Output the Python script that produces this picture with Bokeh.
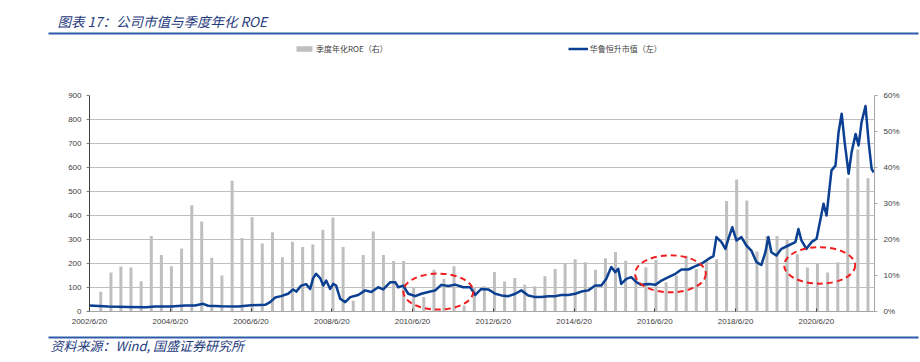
import pandas as pd
from bokeh.plotting import figure
from bokeh.models import (Range1d, LinearAxis, FixedTicker, DatetimeTickFormatter,
                          PrintfTickFormatter, Legend, LegendItem, Label, BoxAnnotation,
                          ColumnDataSource)
from bokeh.embed import file_html
from bokeh.resources import INLINE

# ---------------- data ----------------
quarter_ends = [pd.Timestamp(y, m, 1) + pd.offsets.MonthEnd(0)
                for y in range(2002, 2022) for m in (3, 6, 9, 12)]
quarter_ends = [d for d in quarter_ends
                if pd.Timestamp("2002-09-01") <= d <= pd.Timestamp("2021-09-30")]

roe_pct = [5.5, 10.8, 12.5, 12.2, 8.4, 21.0, 15.7, 12.6, 17.5, 29.5,
           25.0, 14.9, 10.0, 36.3, 20.4, 26.2, 18.9, 22.0, 15.1, 19.4,
           17.9, 18.6, 22.7, 26.1, 17.9, 3.0, 15.7, 22.2, 15.7, 14.0,
           14.0, 6.7, 4.0, 11.6, 9.1, 12.6, 1.7, 6.5, 7.0, 11.0,
           8.3, 9.3, 7.4, 7.0, 9.8, 11.8, 13.4, 14.5, 13.7, 11.6,
           14.8, 16.5, 14.1, 9.9, 12.3, 14.3, 8.1, 10.0, 15.5, 11.8,
           14.0, 14.5, 30.7, 36.7, 30.8, 16.7, 21.0, 21.0, 20.0, 15.9,
           12.2, 13.4, 10.8, 13.7, 37.0, 45.0, 37.0]

cap_dates = ["2002-06-20", "2002-12-05", "2003-06-04", "2003-11-13", "2004-02-02",
             "2004-06-27", "2004-11-01", "2005-01-30", "2005-04-13", "2005-05-28",
             "2005-09-23", "2006-02-23", "2006-06-21", "2006-10-26", "2006-12-10",
             "2007-01-24", "2007-03-20", "2007-05-22", "2007-07-06", "2007-08-03",
             "2007-09-17", "2007-11-01", "2007-12-07", "2008-01-03", "2008-01-30",
             "2008-03-07", "2008-04-03", "2008-04-30", "2008-06-05", "2008-07-02",
             "2008-07-29", "2008-09-04", "2008-10-19", "2008-12-04", "2009-02-14",
             "2009-04-18", "2009-06-12", "2009-08-14", "2009-09-28", "2009-12-01",
             "2010-01-15", "2010-02-11", "2010-03-28", "2010-05-12", "2010-07-15",
             "2010-09-08", "2010-11-10", "2011-01-12", "2011-03-07", "2011-05-10",
             "2011-07-11", "2011-09-22", "2011-11-24", "2012-01-09", "2012-03-03",
             "2012-05-05", "2012-07-08", "2012-09-01", "2012-11-03", "2013-01-05",
             "2013-02-28", "2013-05-02", "2013-07-05", "2013-08-28", "2013-10-31",
             "2014-01-02", "2014-02-25", "2014-04-29", "2014-07-01", "2014-08-25",
             "2014-10-27", "2014-12-29", "2015-02-22", "2015-04-08", "2015-05-23",
             "2015-06-28", "2015-07-25", "2015-08-21", "2015-10-06", "2015-11-20",
             "2016-01-05", "2016-02-19", "2016-04-23", "2016-06-26", "2016-08-19",
             "2016-10-21", "2016-12-23", "2017-02-16", "2017-04-20", "2017-06-22",
             "2017-08-15", "2017-10-18", "2017-12-02", "2017-12-29", "2018-02-13",
             "2018-03-20", "2018-04-16", "2018-05-22", "2018-06-28", "2018-08-12",
             "2018-09-26", "2018-11-10", "2018-12-26", "2019-02-09", "2019-03-17",
             "2019-04-13", "2019-05-10", "2019-06-24", "2019-08-09", "2019-10-11",
             "2019-12-13", "2020-01-10", "2020-02-06", "2020-03-22", "2020-05-07",
             "2020-06-22", "2020-07-28", "2020-08-24", "2020-09-20", "2020-11-04",
             "2020-12-10", "2021-01-07", "2021-02-04", "2021-03-03", "2021-04-08",
             "2021-05-05", "2021-06-10", "2021-07-07", "2021-08-03", "2021-09-08",
             "2021-10-06", "2021-11-02", "2021-11-20"]

cap_values = [25, 21, 19, 18, 21, 21, 25, 25, 32, 24,
              22, 21, 26, 28, 39, 58, 64, 74, 92, 83,
              108, 114, 94, 139, 157, 139, 108, 129, 94, 115,
              108, 53, 39, 60, 69, 88, 81, 101, 92, 122,
              122, 101, 108, 74, 64, 74, 81, 88, 111, 106,
              112, 101, 101, 69, 94, 92, 74, 67, 64, 74,
              88, 67, 60, 60, 64, 64, 69, 69, 74, 83,
              88, 108, 108, 136, 185, 164, 178, 115, 136, 143,
              122, 111, 115, 111, 129, 143, 157, 175, 175, 189,
              199, 219, 231, 310, 289, 261, 303, 351, 296, 310,
              275, 254, 206, 194, 247, 310, 247, 233, 261, 275,
              289, 344, 296, 261, 289, 303, 386, 449, 400, 588,
              608, 747, 824, 706, 574, 664, 740, 692, 789, 856,
              706, 594, 580]

tick_dates = ["2002-06-20", "2004-06-20", "2006-06-20", "2008-06-20", "2010-06-20",
              "2012-06-20", "2014-06-20", "2016-06-20", "2018-06-20", "2020-06-20"]
left_ticks = [0, 100, 200, 300, 400, 500, 600, 700, 800, 900]
right_ticks = [0, 10, 20, 30, 40, 50, 60]

# highlighted periods (red dashed ellipses): centre date, centre value (left axis), span days, span value
ell_dates = ["2011-02-08", "2016-11-08", "2020-07-20"]
ell_values = [83, 157, 192]
ell_span_days = [633, 640, 642]
ell_span_values = [150, 154, 152]

title_text = "图表 17：公司市值与季度年化 ROE"
source_text = "资料来源：Wind, 国盛证券研究所"
bar_label = "季度年化ROE（右）"
line_label = "华鲁恒升市值（左）"

# ---------------- styles ----------------
DAY_MS = 86400000
W = 920
H_HEAD, H_CHART, H_FOOT = 85, 245, 32
BAR_COLOR = "#BFBFBF"
LINE_COLOR = "#0B3F91"
RULE_COLOR = "#2E5CA8"
TITLE_COLOR = "#1F3C7E"
tick_font = "Liberation Sans"
label_color = "#404040"
cjk = "Noto Sans CJK SC"
NAN = float("nan")


def blank_fig(h):
    f = figure(width=W, height=h, output_backend="svg", toolbar_location=None,
               x_range=Range1d(0, W), y_range=Range1d(h, 0), min_border=0)
    f.axis.visible = False
    f.grid.grid_line_color = None
    f.outline_line_color = None
    return f


# ---------------- header ----------------
head = blank_fig(H_HEAD)
head.add_layout(Label(x=57, y=20, text=title_text, text_font=cjk, text_font_size="13.5px",
                      text_font_style="italic", text_color=TITLE_COLOR,
                      text_baseline="middle", text_align="left"))
head.add_layout(BoxAnnotation(left=48, right=918, top=32, bottom=34,
                              fill_color=RULE_COLOR, fill_alpha=1, line_color=None))
# legend proxies (no visible data)
leg_bar = head.vbar(x=[NAN], top=[NAN], width=1, fill_color=BAR_COLOR, line_color=None)
leg_line = head.line(x=[NAN, NAN], y=[NAN, NAN], line_color=LINE_COLOR, line_width=2.5)
legend = Legend(items=[LegendItem(label=bar_label, renderers=[leg_bar]),
                       LegendItem(label=line_label, renderers=[leg_line])],
                orientation="horizontal", location=(294, 31),
                spacing=180, padding=0, margin=0, glyph_width=20, glyph_height=7,
                label_height=10, label_standoff=2,
                label_text_font=cjk, label_text_font_size="8px",
                label_text_color="#404040", border_line_color=None,
                background_fill_alpha=0)
head.add_layout(legend, "center")

# ---------------- chart ----------------
x_start = pd.Timestamp("2002-06-20")
x_end = pd.Timestamp("2021-11-28")

p = figure(width=W, height=H_CHART, output_backend="svg", toolbar_location=None,
           x_axis_type="datetime", x_range=Range1d(x_start, x_end),
           y_range=Range1d(0, 900))
p.min_border_left = 89
p.min_border_right = 46
p.min_border_top = 10
p.min_border_bottom = 19
p.outline_line_color = None
p.extra_y_ranges = {"roe": Range1d(0, 60)}

ya = p.yaxis[0]
ya.ticker = FixedTicker(ticks=left_ticks)
ya.major_tick_in = 0
ya.major_tick_out = 3
ya.minor_tick_line_color = None
ya.axis_line_color = "#404040"
ya.major_tick_line_color = "#808080"
ya.major_label_text_font = tick_font
ya.major_label_text_font_size = "8px"
ya.major_label_text_color = label_color
ya.major_label_standoff = 5

ra = LinearAxis(y_range_name="roe", ticker=FixedTicker(ticks=right_ticks),
                formatter=PrintfTickFormatter(format="%d%%"))
ra.major_tick_in = 0
ra.major_tick_out = 3
ra.minor_tick_line_color = None
ra.axis_line_color = "#A6A6A6"
ra.major_tick_line_color = "#A6A6A6"
ra.major_label_text_font = tick_font
ra.major_label_text_font_size = "8px"
ra.major_label_text_color = label_color
ra.major_label_standoff = 6
p.add_layout(ra, "right")

xa = p.xaxis[0]
tick_ms = [pd.Timestamp(d).value // 10**6 for d in tick_dates]
xa.ticker = FixedTicker(ticks=tick_ms)
fmt = "%Y/%-m/%d"
xa.formatter = DatetimeTickFormatter(days=fmt, months=fmt, years=fmt, hours=fmt,
                                     hourmin=fmt, minutes=fmt, minsec=fmt, seconds=fmt,
                                     milliseconds=fmt, microseconds=fmt)
xa.major_tick_in = 3
xa.major_tick_out = 0
xa.minor_tick_line_color = None
xa.axis_line_color = "#A6A6A6"
xa.major_tick_line_color = "#404040"
xa.major_label_text_font = tick_font
xa.major_label_text_font_size = "8px"
xa.major_label_text_color = label_color
xa.major_label_standoff = 5

p.xgrid.grid_line_color = None
p.ygrid.grid_line_color = "#BFBFBF"
p.ygrid.grid_line_width = 1

bar_src = ColumnDataSource(dict(x=quarter_ends, top=roe_pct))
p.vbar(x="x", top="top", bottom=0, width=27 * DAY_MS, source=bar_src,
       y_range_name="roe", fill_color=BAR_COLOR, line_color=None)

line_src = ColumnDataSource(dict(x=pd.to_datetime(cap_dates), y=cap_values))
p.line(x="x", y="y", source=line_src, line_color=LINE_COLOR, line_width=2.5,
       line_join="round")

ell_src = ColumnDataSource(dict(x=pd.to_datetime(ell_dates), y=ell_values,
                                w=[d * DAY_MS for d in ell_span_days], h=ell_span_values))
p.ellipse(x="x", y="y", width="w", height="h", source=ell_src, fill_alpha=0,
          line_color="#F01E1E", line_width=2, line_dash="6 4")

# ---------------- footer ----------------
foot = blank_fig(H_FOOT)
foot.add_layout(BoxAnnotation(left=48, right=918, top=6, bottom=8,
                              fill_color=RULE_COLOR, fill_alpha=1, line_color=None))
foot.add_layout(Label(x=50, y=15, text=source_text, text_font=cjk, text_font_size="13px",
                      text_font_style="italic", text_color=TITLE_COLOR,
                      text_baseline="middle", text_align="left"))

open("out.html", "w").write(file_html([head, p, foot], INLINE))
